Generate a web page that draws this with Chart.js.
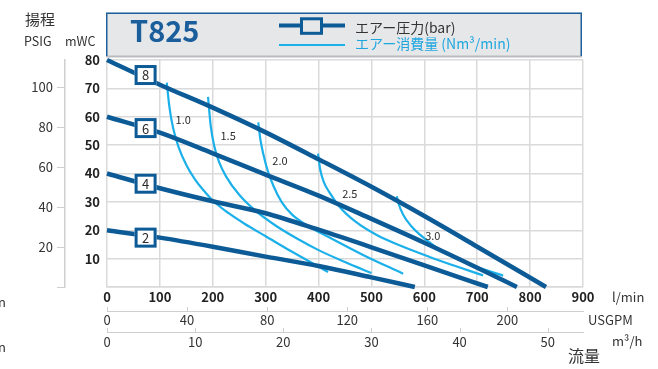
<!DOCTYPE html>
<html>
<head>
<meta charset="utf-8">
<script src="https://cdn.jsdelivr.net/npm/chart.js@4"></script>
<style>
  body{margin:0;background:#fff;overflow:hidden;}
  #c{display:block;}
</style>
</head>
<body>
<canvas id="c" width="658" height="369"></canvas>
<script>
const FONT = '"Noto Sans CJK JP","Open Sans",sans-serif';
const DARK = '#0c5b97', LIGHT = '#1cb0ea', GRID = '#dadada', TXT = '#2b2b2b';

// air pressure lines (bar) : flow l/min -> head mWC
const pressureNames = ['8','6','4','2'];
const bar8Flow = [0,100,200,300,400,500,600,700,830];
const bar8Head = [80,71.3,63.2,54.5,45,35.3,25,14.2,0];
const bar6Flow = [0,100,200,300,400,500,600,700,775];
const bar6Head = [60,54.4,47.1,39.6,32.2,24,15.6,6.8,0];
const bar4Flow = [0,100,200,300,400,500,600,720];
const bar4Head = [40,34.8,30.2,26,20.2,14,7.6,0];
const bar2Flow = [0,100,200,300,400,500,582];
const bar2Head = [20,17.4,14.2,10.7,7.4,3.4,0];
const boxFlow = 73;
const boxHead = [74.7,56,36.4,17.4];

// air consumption curves (Nm3/min)
const airNames = ['1.0','1.5','2.0','2.5','3.0'];
const air10Flow = [113,118,125,135,150,165,180,200,230,260,300,350,418];
const air10Head = [72,63.5,56,49.5,43,38.3,34.6,30.5,26,22.3,17.9,12.4,5.3];
const air15Flow = [191,196,203,212,225,250,280,320,360,400,450,500];
const air15Head = [67,57,49.5,44,39,32.5,27,21.5,17,13,8.8,4.9];
const air20Flow = [286,290,296,303,315,330,350,380,420,485,560];
const air20Head = [58,52,46.5,41.5,35.5,30,25.5,21.5,17.5,11.2,4.7];
const air25Flow = [399,403,410,420,440,470,510,554,610,660,711];
const air25Head = [47,41.5,37,33.5,28.2,23,18.3,14.6,10.6,7.3,4.1];
const air30Flow = [548,552,560,575,590,620,650,700,749];
const air30Head = [32,29,25.5,21.5,18.7,14.3,11,7,4];
const airLabelFlow = [144,229,327,459,616];
const airLabelHead = [59,53.2,44.4,32.7,17.9];

// axes
const flowTicks = [0,100,200,300,400,500,600,700,800,900];
const usgpmMax = 900/3.78541, m3hMax = 900*60/1000, psiMax = 80/0.70307;

const pts = (f,h) => f.map((v,i)=>({x:v,y:h[i]}));
const line = (f,h,color,w) => ({data:pts(f,h),borderColor:color,borderWidth:w,pointRadius:0,
  cubicInterpolationMode:'monotone',fill:false,clip:false});

Chart.defaults.font.family = FONT;
Chart.defaults.color = TXT;

const deco = {
  id:'deco',
  beforeDraw(chart){
    const ctx = chart.ctx;
    ctx.save();
    // header box
    ctx.fillStyle = '#e6e7e9';
    ctx.fillRect(106,12.5,476,44.5);
    ctx.strokeStyle = '#b9bbbe'; ctx.lineWidth = 2;
    ctx.beginPath(); ctx.moveTo(106,56.5); ctx.lineTo(582,56.5); ctx.stroke();
    ctx.strokeStyle = '#1d5f9b'; ctx.lineWidth = 1.5;
    ctx.beginPath(); ctx.moveTo(106.75,56); ctx.lineTo(106.75,13.25); ctx.lineTo(581.25,13.25); ctx.lineTo(581.25,56); ctx.stroke();
    ctx.fillStyle = '#1b5e9c'; ctx.font = 'bold 29px '+FONT; ctx.textBaseline = 'alphabetic';
    ctx.fillText('T825',130,41.5);
    ctx.strokeStyle = DARK; ctx.lineWidth = 4;
    ctx.beginPath(); ctx.moveTo(279,25.5); ctx.lineTo(345,25.5); ctx.stroke();
    ctx.fillStyle = '#e6e7e9'; ctx.lineWidth = 3;
    ctx.fillRect(301.5,18.8,20,14.5); ctx.strokeRect(301.5,18.8,20,14.5);
    ctx.strokeStyle = LIGHT; ctx.lineWidth = 2;
    ctx.beginPath(); ctx.moveTo(279,45); ctx.lineTo(345,45); ctx.stroke();
    ctx.font = '14px '+FONT; ctx.fillStyle = '#333';
    ctx.fillText('エアー圧力(bar)',355,32.5);
    ctx.fillStyle = '#1fa6df';
    ctx.fillText('エアー消費量 (Nm³/min)',355,49);
    // titles and units
    ctx.fillStyle = '#333';
    ctx.font = '15px '+FONT; ctx.fillText('揚程',25,25);
    ctx.font = '12.5px '+FONT; ctx.fillText('PSIG',24,45.5); ctx.fillText('mWC',65,45.5);
    ctx.font = '13px '+FONT;
    ctx.fillText('l/min',612,302);
    ctx.fillText('USGPM',588,324.5);
    ctx.fillText('m³/h',612,346);
    ctx.fillText('n',-2,306.5); ctx.fillText('n',-2,351.5);
    ctx.font = '16px '+FONT; ctx.fillText('流量',568,362);
    ctx.restore();
  },
  afterDatasetsDraw(chart){
    const {ctx, scales:{x,y}} = chart;
    ctx.save();
    ctx.textAlign = 'center'; ctx.textBaseline = 'middle';
    ctx.font = '11px '+FONT; ctx.fillStyle = TXT;
    airNames.forEach((n,i)=>ctx.fillText(n, x.getPixelForValue(airLabelFlow[i]), y.getPixelForValue(airLabelHead[i])));
    ctx.font = '13px '+FONT;
    pressureNames.forEach((n,i)=>{
      const cx = x.getPixelForValue(boxFlow), cy = y.getPixelForValue(boxHead[i]);
      ctx.fillStyle = '#fff'; ctx.fillRect(cx-11,cy-10,22,20);
      ctx.strokeStyle = DARK; ctx.lineWidth = 3; ctx.strokeRect(cx-9.5,cy-8.5,19,17);
      ctx.fillStyle = TXT; ctx.fillText(n,cx,cy+0.5);
    });
    ctx.restore();
  },
  afterDraw(chart){
    const ctx = chart.ctx;
    ctx.save();
    ctx.strokeStyle = '#cfcfcf'; ctx.lineWidth = 1;
    ['xg','xm'].forEach(id=>{
      const s = chart.scales[id];
      s.ticks.forEach(t=>{
        const px = Math.round(s.getPixelForValue(t.value))+0.5;
        ctx.beginPath(); ctx.moveTo(px,s.top-4); ctx.lineTo(px,s.top); ctx.stroke();
      });
    });
    ctx.restore();
  }
};

new Chart(document.getElementById('c'), {
  type:'line',
  data:{datasets:[
    line(bar8Flow,bar8Head,DARK,4.5),
    line(bar6Flow,bar6Head,DARK,4.5),
    line(bar4Flow,bar4Head,DARK,4.5),
    line(bar2Flow,bar2Head,DARK,4.5),
    line(air10Flow,air10Head,LIGHT,2.2),
    line(air15Flow,air15Head,LIGHT,2.2),
    line(air20Flow,air20Head,LIGHT,2.2),
    line(air25Flow,air25Head,LIGHT,2.2),
    line(air30Flow,air30Head,LIGHT,2.2)
  ]},
  options:{
    responsive:false, animation:false,
    layout:{padding:{top:60,right:75,bottom:17,left:0}},
    plugins:{legend:{display:false}, tooltip:{enabled:false}},
    scales:{
      x:{type:'linear', position:'bottom', weight:0, min:0, max:900,
        afterBuildTicks:s=>{s.ticks = flowTicks.map(v=>({value:v}));},
        ticks:{font:{size:13,weight:'bold'}, color:'#222', padding:2},
        grid:{color:GRID, lineWidth:1.5, drawTicks:false},
        border:{color:GRID, width:1.5},
        afterFit:s=>{s.height=24;}},
      xg:{type:'linear', position:'bottom', weight:1, min:0, max:usgpmMax,
        ticks:{stepSize:40, includeBounds:false, font:{size:13}, color:'#333', padding:1},
        grid:{display:false, drawTicks:false}, border:{color:'#cfcfcf', width:1},
        afterFit:s=>{s.height=21;}},
      xm:{type:'linear', position:'bottom', weight:2, min:0, max:m3hMax,
        ticks:{stepSize:10, includeBounds:false, font:{size:13}, color:'#333', padding:2},
        grid:{display:false, drawTicks:false}, border:{color:'#cfcfcf', width:1},
        afterFit:s=>{s.height=20;}},
      y:{type:'linear', position:'left', weight:0, min:0, max:80,
        ticks:{stepSize:10, font:{size:13,weight:'bold'}, color:'#222', padding:7,
          callback:v=>v===0?'':v},
        grid:{color:GRID, lineWidth:1.5, drawTicks:false},
        border:{display:false},
        afterFit:s=>{s.width=42;}},
      yp:{type:'linear', position:'left', weight:1, min:0, max:psiMax,
        ticks:{stepSize:20, includeBounds:false, font:{size:13}, color:'#333', padding:4,
          callback:v=>v===0?'':v},
        grid:{drawOnChartArea:false, drawTicks:true, tickLength:8, color:'#cfcfcf', lineWidth:1},
        border:{color:'#cfcfcf', width:1.5},
        afterFit:s=>{s.width=65;}}
    }
  },
  plugins:[deco]
});
</script>
</body>
</html>
